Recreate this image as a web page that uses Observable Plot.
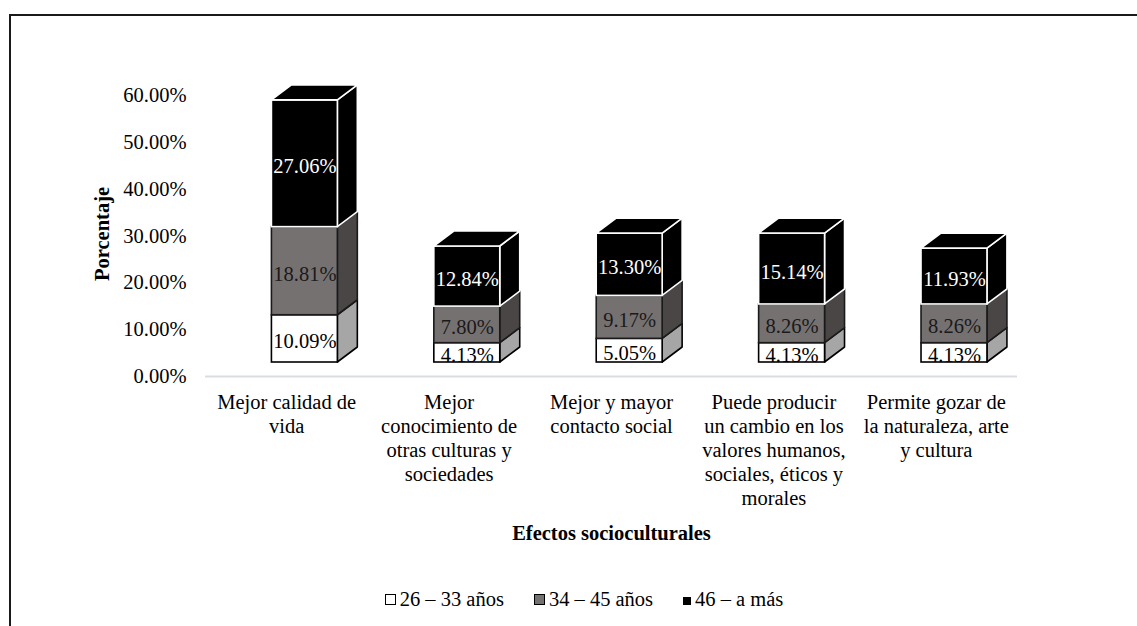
<!DOCTYPE html>
<html>
<head>
<meta charset="utf-8">
<script src="https://cdn.jsdelivr.net/npm/d3@7"></script>
<script src="https://cdn.jsdelivr.net/npm/@observablehq/plot@0.6"></script>
<style>
  html, body { margin: 0; padding: 0; background: #fff; overflow: hidden; width: 1137px; height: 626px; }
  #frame { position: absolute; left: 9px; top: 14px; width: 3000px; height: 3000px;
           border-left: 2px solid #1a1a1a; border-top: 2px solid #1a1a1a; }
  #chart { position: absolute; left: 0; top: 0; }
  #chart svg, #chart svg text { font-family: "Liberation Serif", "Times New Roman", serif !important; }
  #legend { position: absolute; left: 0; top: 588px; width: 1168px; text-align: center;
            font-family: "Liberation Serif", "Times New Roman", serif; font-size: 20.5px; color: #000; }
  .item { display: inline-block; margin: 0 15px; white-space: nowrap; }
  .sw { display: inline-block; box-sizing: border-box; vertical-align: 1px; margin-right: 4px; }
</style>
</head>
<body>
<div id="frame"></div>
<div id="chart"></div>
<div id="legend"></div>
<script>
// ---- data ----
const categories = [
  "Mejor calidad de vida",
  "Mejor conocimiento de otras culturas y sociedades",
  "Mejor y mayor contacto social",
  "Puede producir un cambio en los valores humanos, sociales, éticos y morales",
  "Permite gozar de la naturaleza, arte y cultura"
];
const categoryLabels = [
  "Mejor calidad de\nvida",
  "Mejor\nconocimiento de\notras culturas y\nsociedades",
  "Mejor y mayor\ncontacto social",
  "Puede producir\nun cambio en los\nvalores humanos,\nsociales, éticos y\nmorales",
  "Permite gozar de\nla naturaleza, arte\ny cultura"
];
const seriesNames = ["26 – 33 años", "34 – 45 años", "46 – a más"];
const age26to33 = [10.09, 4.13, 5.05, 4.13, 4.13];
const age34to45 = [18.81, 7.80, 9.17, 8.26, 8.26];
const age46plus = [27.06, 12.84, 13.30, 15.14, 11.93];
const yTicks = [0, 10, 20, 30, 40, 50, 60];

// ---- styles ----
const FONT = "Liberation Serif";
const FS = 20.5;
const frontFill = ["#ffffff", "#767171", "#000000"];
const sideFill  = ["#a6a6a6", "#4b4646", "#000000"];
const edgeColor = ["#000000", "#1a1a1a", "#ffffff"];
const textColor = ["#000000", "#1a1a1a", "#ffffff"];

// ---- geometry (layout constants) ----
const faceW = 0.406, faceOff = 0.112;    // in category units
const depthX = 0.123, depthY = 3.2;      // 3-D depth in data units
const lift = -14;                        // pixel lift of the 3-D bars

const seriesValues = [age26to33, age34to45, age46plus];
const segs = [];
categories.forEach((c, i) => {
  let lo = 0;
  seriesValues.forEach((vals, s) => {
    const hi = lo + vals[i];
    segs.push({i, s, lo, hi, v: vals[i]});
    lo = hi;
  });
});
const xl = d => d.i + faceOff - faceW / 2;
const xr = d => d.i + faceOff + faceW / 2;

const marks = [Plot.ruleY([0], {stroke: "#d9dde3", strokeWidth: 2})];
for (let s = 0; s < 3; s++) {
  const ss = segs.filter(d => d.s === s);
  const side = ss.flatMap(d => [
    {key: d.i, x: xr(d), y1: d.lo, y2: d.hi},
    {key: d.i, x: xr(d) + depthX, y1: d.lo + depthY, y2: d.hi + depthY}
  ]);
  marks.push(Plot.area(side, {x1: "x", y1: "y1", y2: "y2", z: "key", fill: sideFill[s],
    stroke: edgeColor[s], strokeWidth: 1.6, strokeLinejoin: "round", dy: lift}));
  marks.push(Plot.rect(ss, {x1: xl, x2: xr, y1: "lo", y2: "hi", fill: frontFill[s],
    stroke: edgeColor[s], strokeWidth: 1.6, dy: lift}));
  if (s === 2) {
    const top = ss.flatMap(d => [
      {key: d.i, x: xl(d), y1: d.hi, y2: d.hi},
      {key: d.i, x: xl(d) + depthX, y1: d.hi, y2: d.hi + depthY},
      {key: d.i, x: xr(d), y1: d.hi, y2: d.hi + depthY},
      {key: d.i, x: xr(d) + depthX, y1: d.hi + depthY, y2: d.hi + depthY}
    ]);
    marks.push(Plot.area(top, {x1: "x", y1: "y1", y2: "y2", z: "key", fill: "#000",
      stroke: "#ffffff", strokeWidth: 1.6, strokeLinejoin: "round", dy: lift}));
  }
}
for (let s = 0; s < 3; s++) {
  const ss = segs.filter(d => d.s === s);
  marks.push(Plot.text(ss, {x: d => d.i + faceOff, y: d => (d.lo + d.hi) / 2,
    text: d => d.v.toFixed(2) + "%", fill: textColor[s], fontSize: FS, fontFamily: FONT, dy: lift + 3}));
}
marks.push(Plot.axisY({ticks: yTicks, tickFormat: d => d.toFixed(2) + "%", tickSize: 0,
  tickPadding: 19, label: null, fontSize: FS, fontFamily: FONT}));
marks.push(Plot.axisX({ticks: [0, 1, 2, 3, 4], tickFormat: i => categoryLabels[i], tickSize: 0,
  tickPadding: 15, label: null, fontSize: FS, fontFamily: FONT, lineHeight: 1.18}));
marks.push(Plot.text(["Porcentaje"], {frameAnchor: "left", textAnchor: "middle", lineAnchor: "middle",
  dx: -103, dy: -2, rotate: -90, fontWeight: "bold", fontSize: FS, fontFamily: FONT}));
marks.push(Plot.text(["Efectos socioculturales"], {frameAnchor: "bottom", textAnchor: "middle",
  lineAnchor: "middle", dy: 157, fontWeight: "bold", fontSize: FS, fontFamily: FONT}));

const chart = Plot.plot({
  width: 1137,
  height: 570,
  marginLeft: 205,
  marginRight: 120,
  marginTop: 95,
  marginBottom: 194,
  x: {type: "linear", domain: [-0.5, 4.5]},
  y: {domain: [0, 60]},
  style: {fontSize: FS + "px", color: "#000", background: "transparent", overflow: "visible"},
  marks
});
document.getElementById("chart").appendChild(chart);

// ---- legend ----
const swatchStyles = [
  "width:11px;height:11px;background:#fff;border:1.6px solid #000;",
  "width:11px;height:11px;background:#767171;border:1.6px solid #000;",
  "width:8px;height:8px;background:#000;border:0;"
];
const legend = document.getElementById("legend");
seriesNames.forEach((name, s) => {
  const it = document.createElement("span");
  it.className = "item";
  const sw = document.createElement("span");
  sw.className = "sw";
  sw.style.cssText = swatchStyles[s];
  it.appendChild(sw);
  it.appendChild(document.createTextNode(name));
  legend.appendChild(it);
});
</script>
</body>
</html>
